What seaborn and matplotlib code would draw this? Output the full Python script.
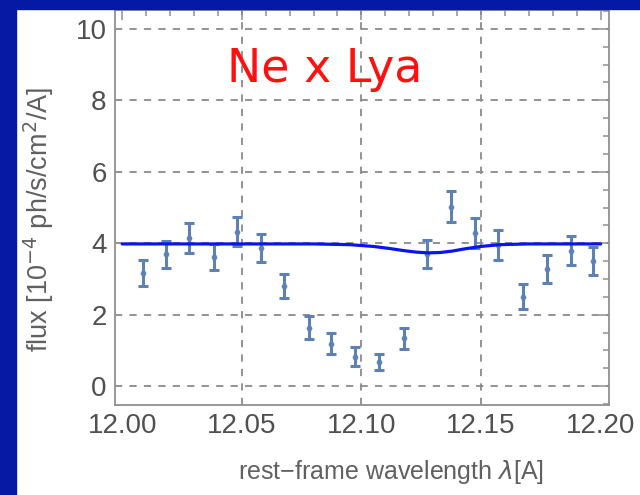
import numpy as np
import pandas as pd
import seaborn as sns
import matplotlib.pyplot as plt
from matplotlib.patches import Rectangle
from matplotlib.ticker import MultipleLocator

# measured points (wavelength, flux, error)
wave = [12.0085, 12.0185, 12.028, 12.0385, 12.048, 12.058, 12.0675, 12.078, 12.0875, 12.0975,
        12.1075, 12.118, 12.1275, 12.1375, 12.1475, 12.157, 12.1675, 12.1775, 12.1875, 12.197]
flux = [3.17, 3.69, 4.15, 3.62, 4.32, 3.87, 2.81, 1.64, 1.19, 0.82,
        0.68, 1.34, 3.70, 5.02, 4.28, 3.95, 2.50, 3.27, 3.79, 3.51]
err = [0.37, 0.38, 0.41, 0.37, 0.41, 0.39, 0.34, 0.31, 0.29, 0.27,
       0.23, 0.29, 0.38, 0.43, 0.42, 0.41, 0.35, 0.39, 0.40, 0.39]

# model curve
model_x = [12.000, 12.080, 12.095, 12.105, 12.112, 12.118, 12.123, 12.128, 12.133, 12.138,
           12.143, 12.150, 12.158, 12.170, 12.200]
model_y = [3.98, 3.98, 3.96, 3.91, 3.85, 3.79, 3.75, 3.73, 3.74, 3.78,
           3.84, 3.91, 3.96, 3.98, 3.98]

pts = pd.DataFrame({"wave": wave, "flux": flux, "err": err})
mod = pd.DataFrame({"x": model_x, "y": model_y})

sns.set_style("white")
plt.rcParams['font.family'] = ['Liberation Sans', 'DejaVu Sans']

fig = plt.figure(figsize=(6.4, 4.95), dpi=100)
fig.patch.set_facecolor("white")
fig.patches.append(Rectangle((0, 0), 16/640, 1, transform=fig.transFigure, color="#0619a5", zorder=0))
fig.patches.append(Rectangle((0, 1-9/495), 1, 9/495, transform=fig.transFigure, color="#0619a5", zorder=0))

ax = fig.add_axes([115/640, 1-405/495, 494/640, 395/495])

ptcol = "#5e81b5"
ax.errorbar(pts["wave"], pts["flux"], yerr=pts["err"], fmt="none", ecolor=ptcol,
            elinewidth=2.2, capsize=3.3, capthick=2.2, zorder=3)
sns.scatterplot(data=pts, x="wave", y="flux", ax=ax, color=ptcol, s=14, edgecolor=ptcol, zorder=4)
sns.lineplot(data=mod, x="x", y="y", ax=ax, color="#0a14f0", lw=2.3, zorder=5)

ax.set_xlim(11.997, 12.2035)
ax.set_ylim(-0.53, 10.53)
ax.xaxis.set_major_locator(MultipleLocator(0.05))
ax.xaxis.set_minor_locator(MultipleLocator(0.01))
ax.yaxis.set_major_locator(MultipleLocator(2))
ax.yaxis.set_minor_locator(MultipleLocator(0.5))
ax.set_xticks([12.00, 12.05, 12.10, 12.15, 12.20])
ax.set_xticklabels(["12.00", "12.05", "12.10", "12.15", "12.20"])

for xv in [12.05, 12.10, 12.15]:
    ax.axvline(xv, color="#8a8a8a", lw=1.3, ls=(0, (4, 4)), zorder=1)
for yv in [0, 2, 4, 6, 8, 10]:
    ax.axhline(yv, color="#8a8a8a", lw=1.3, ls=(0, (4, 4)), zorder=1)

for s in ax.spines.values():
    s.set_color("#909090")
    s.set_linewidth(1.3)
ax.tick_params(which="both", direction="in", top=True, right=True, color="#909090",
               labelcolor="#505050", labelsize=20, width=1.1)
ax.tick_params(which="major", length=7, pad=6)
ax.tick_params(which="minor", length=4)

ax.set_xlabel("rest\u2212frame wavelength $\\lambda$[A]", fontsize=18, color="#606060")
ax.set_ylabel("flux [10$^{-4}$ ph/s/cm$^2$/A]", fontsize=19.5, color="#606060")
ax.xaxis.set_label_coords(0.559, -0.134)
ax.yaxis.set_label_coords(-0.119, 0.47)

ax.text(12.0848, 8.52, "Ne x Lya", color="#ff1010", fontsize=33, ha="center", va="baseline",
        family=["DejaVu Sans"])

fig.savefig("out.png", dpi=100)
